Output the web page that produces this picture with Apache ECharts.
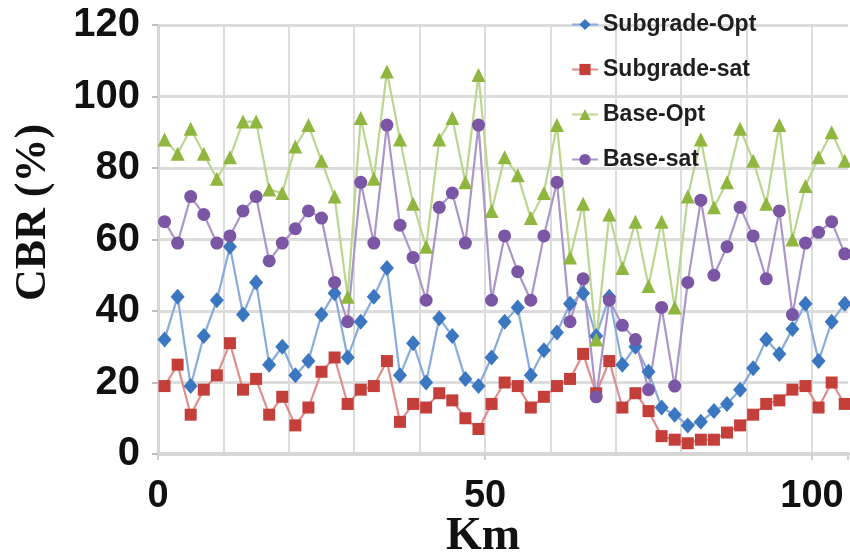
<!DOCTYPE html>
<html>
<head>
<meta charset="utf-8">
<script src="https://cdn.jsdelivr.net/npm/echarts@6/dist/echarts.min.js"></script>
<style>html,body{margin:0;padding:0;background:#fff}#c{width:850px;height:555px}</style>
</head>
<body>
<div id="c"></div>
<script>
const km = [1,3,5,7,9,11,13,15,17,19,21,23,25,27,29,31,33,35,37,39,41,43,45,47,49,51,53,55,57,59,61,63,65,67,69,71,73,75,77,79,81,83,85,87,89,91,93,95,97,99,101,103,105];
const subgradeOpt = [32,44,19,33,43,58,39,48,25,30,22,26,39,45,27,37,44,52,22,31,20,38,33,21,19,27,37,41,22,29,34,42,45,33,44,25,30,23,13,11,8,9,12,14,18,24,32,28,35,42,26,37,42];
const subgradeSat = [19,25,11,18,22,31,18,21,11,16,8,13,23,27,14,18,19,26,9,14,13,17,15,10,7,14,20,19,13,16,19,21,28,17,26,13,17,12,5,4,3,4,4,6,8,11,14,15,18,19,13,20,14];
const baseOpt = [88,84,91,84,77,83,93,93,74,73,86,92,82,72,44,94,77,107,88,70,58,88,94,76,106,68,83,78,66,73,92,55,70,32,67,52,65,47,65,41,72,88,69,76,91,82,70,92,60,75,83,90,82];
const baseSat = [65,59,72,67,59,61,68,72,54,59,63,68,66,48,37,76,59,92,64,55,43,69,73,59,92,43,61,51,43,61,76,37,49,16,43,36,32,18,41,19,48,71,50,58,69,61,49,68,39,59,62,65,56];
const seriesNames = ['Subgrade-Opt','Subgrade-sat','Base-Opt','Base-sat'];
const yTicks = [0,20,40,60,80,100,120];
const xLabelTicks = [0,50,100];

const pairs = arr => km.map((k,i)=>[k, arr[i]]);
const styles = [
  {symbol:'diamond', size:[14,16], mark:'#3b76c0', line:'#86abdc'},
  {symbol:'rect', size:12, mark:'#c43e3a', line:'#de8e8b'},
  {symbol:'triangle', size:14, mark:'#8fb73f', line:'#bcd58f'},
  {symbol:'circle', size:13, mark:'#7a56a5', line:'#ab96c9'}
];
const dataSets = [subgradeOpt, subgradeSat, baseOpt, baseSat];

const chart = echarts.init(document.getElementById('c'), null, {renderer:'canvas'});
chart.setOption({
  animation:false,
  backgroundColor:'#fff',
  grid:{left:158, top:25, right:2, bottom:101, containLabel:false, outerBoundsMode:'none'},
  legend:{
    orient:'vertical', left:566, top:8, itemWidth:26, itemHeight:14, itemGap:22,
    textStyle:{fontFamily:'Liberation Sans', fontWeight:'bold', fontSize:23, color:'#1e1e1e'},
    data: seriesNames
  },
  xAxis:[{
    type:'value', min:0, max:105.5, interval:10,
    axisLine:{show:true, onZero:false, lineStyle:{color:'#d6d6d6', width:4}},
    axisTick:{show:false}, axisLabel:{show:false},
    splitLine:{show:true, showMaxLine:false, lineStyle:{color:'#dcdcdc', width:2}},
    name:'Km', nameLocation:'middle', nameGap:60,
    nameTextStyle:{fontFamily:'Liberation Serif', fontWeight:'bold', fontSize:46, color:'#111', padding:[0,40,0,0]}
  },{
    type:'value', min:0, max:105.5, interval:50, position:'bottom',
    axisLine:{show:false}, splitLine:{show:false},
    axisTick:{show:true, length:6, lineStyle:{color:'#cfcfcf', width:2}},
    axisLabel:{margin:24, fontFamily:'Liberation Sans', fontWeight:'bold', fontSize:38, color:'#111',
      formatter: v => xLabelTicks.indexOf(v) >= 0 ? String(v) : ''}
  }],
  yAxis:{
    type:'value', min:yTicks[0], max:yTicks[yTicks.length-1], interval:20,
    axisLine:{show:true, lineStyle:{color:'#d6d6d6', width:3}},
    axisTick:{show:true, length:6, lineStyle:{color:'#bdbdbd', width:2}},
    axisLabel:{margin:18, fontFamily:'Liberation Sans', fontWeight:'bold', fontSize:40, color:'#111'},
    splitLine:{show:true, lineStyle:{color:'#dcdcdc', width:3}},
    name:'CBR (%)', nameLocation:'middle', nameGap:102, nameRotate:90,
    nameTextStyle:{fontFamily:'Liberation Serif', fontWeight:'bold', fontSize:44, color:'#111', padding:[0,0,0,54]}
  },
  series: dataSets.map((d,i)=>({
    name: seriesNames[i], type:'line', xAxisIndex:0,
    data: pairs(d),
    symbol: styles[i].symbol, symbolSize: styles[i].size,
    showAllSymbol:true,
    itemStyle:{color: styles[i].mark},
    lineStyle:{color: styles[i].line, width:2.2},
    emphasis:{disabled:true}
  }))
});
</script>
</body>
</html>
